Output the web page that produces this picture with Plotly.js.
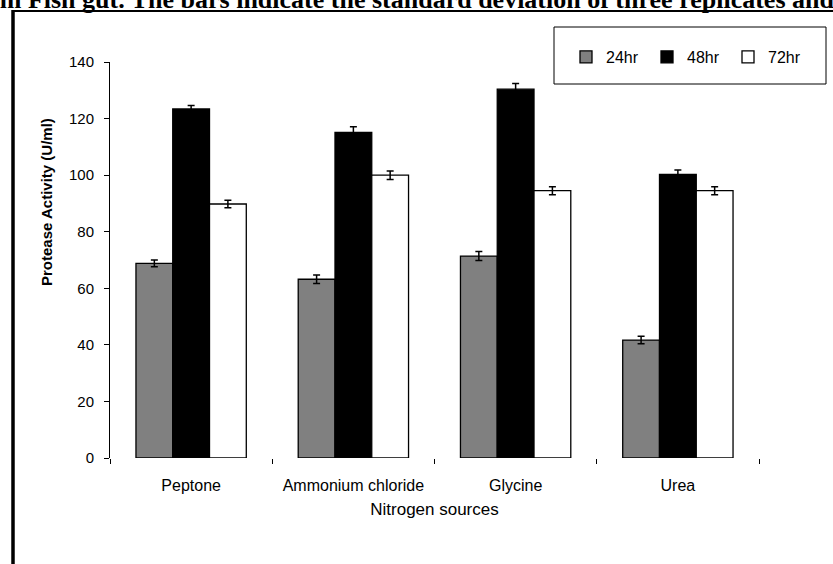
<!DOCTYPE html>
<html>
<head>
<meta charset="utf-8">
<script src="https://cdn.plot.ly/plotly-3.0.1.min.js"></script>
<style>
  html, body { margin: 0; padding: 0; background: #fff; }
  #chart { width: 833px; height: 564px; }
</style>
</head>
<body>
<div id="chart"></div>
<script>
// Protease activity by nitrogen source, sampled at three incubation times
const sources = ["Peptone", "Ammonium chloride", "Glycine", "Urea"];

const act24 = [68.8, 63.2, 71.4, 41.7];
const err24 = [1.2, 1.5, 1.6, 1.3];

const act48 = [123.4, 115.1, 130.4, 100.3];
const err48 = [1.2, 2.0, 2.0, 1.5];

const act72 = [89.8, 100.0, 94.5, 94.5];
const err72 = [1.3, 1.5, 1.4, 1.4];

const seriesNames = ["24hr", "48hr", "72hr"];
const seriesFill = ["#808080", "#000000", "#ffffff"];

const sans = "Liberation Sans, Arial, sans-serif";

// plot-area geometry in pixels (used to place the frame, legend box and labels)
const L = 110, T = 62, W = 649, H = 396;
const px = v => (v - L) / W;          // pixel x -> paper x
const py = v => (T + H - v) / H;      // pixel y -> paper y

function barTrace(name, vals, errs, fill) {
  return {
    type: "bar",
    name: name,
    x: sources,
    y: vals,
    marker: { color: fill, line: { color: "#000", width: 1.3 } },
    error_y: { type: "data", array: errs, visible: true, color: "#000", thickness: 1.5, width: 3.5 },
    hoverinfo: "skip"
  };
}

const traces = [
  barTrace(seriesNames[0], act24, err24, seriesFill[0]),
  barTrace(seriesNames[1], act48, err48, seriesFill[1]),
  barTrace(seriesNames[2], act72, err72, seriesFill[2])
];

const layout = {
  width: 833,
  height: 564,
  margin: { l: L, r: 833 - L - W, t: T, b: 564 - T - H, pad: 0 },
  paper_bgcolor: "#fff",
  plot_bgcolor: "#fff",
  barmode: "group",
  bargap: 0.32,
  bargroupgap: 0,
  showlegend: true,
  legend: {
    orientation: "h",
    x: px(566), y: py(57), xanchor: "left", yanchor: "middle",
    bgcolor: "rgba(0,0,0,0)",
    borderwidth: 0,
    font: { family: sans, size: 16, color: "#000" },
    entrywidth: 36,
    traceorder: "normal"
  },
  xaxis: {
    type: "category",
    range: [-0.5, 3.5],
    showline: false,
    showgrid: false,
    zeroline: false,
    ticks: "outside",
    tickson: "boundaries",
    ticklen: 5,
    tickcolor: "#000",
    tickwidth: 1,
    ticklabelstandoff: 16,
    tickfont: { family: sans, size: 16, color: "#000" },
    title: { text: "Nitrogen sources", font: { family: sans, size: 17, color: "#000" }, standoff: 10 },
    fixedrange: true
  },
  yaxis: {
    range: [0, 140],
    dtick: 20,
    showline: true,
    linecolor: "#000",
    linewidth: 1,
    showgrid: false,
    zeroline: false,
    ticks: "outside",
    ticklen: 5,
    tickcolor: "#000",
    ticklabelstandoff: 7,
    tickfont: { family: sans, size: 15, color: "#000" },
    fixedrange: true
  },
  shapes: [
    // legend box
    { type: "rect", xref: "paper", yref: "paper",
      x0: px(554), x1: px(826), y0: py(84), y1: py(27),
      line: { color: "#000", width: 1 }, fillcolor: "rgba(0,0,0,0)" },
    // figure frame: left and top edges
    { type: "line", xref: "paper", yref: "paper",
      x0: px(13), x1: px(13), y0: py(600), y1: py(10),
      line: { color: "#000", width: 3.5 } },
    { type: "line", xref: "paper", yref: "paper",
      x0: px(12), x1: px(900), y0: py(11), y1: py(11),
      line: { color: "#000", width: 2 } }
  ],
  annotations: [
    // y-axis title
    { xref: "paper", yref: "paper", x: px(47), y: py(202),
      xanchor: "center", yanchor: "middle", textangle: -90,
      text: "<b>Protease Activity (U/ml)</b>", showarrow: false,
      font: { family: sans, size: 15, color: "#000" } },
    // caption line running above the figure frame
    { xref: "paper", yref: "paper",
      x: px(-35), y: py(16), xanchor: "left", yanchor: "bottom",
      text: "<b>from Fish gut. The bars indicate the standard deviation of three replicates and</b>",
      showarrow: false,
      font: { family: "Liberation Serif, Times New Roman, serif", size: 26, color: "#000" } }
  ]
};

Plotly.newPlot("chart", traces, layout, { displayModeBar: false, staticPlot: true });
</script>
</body>
</html>
